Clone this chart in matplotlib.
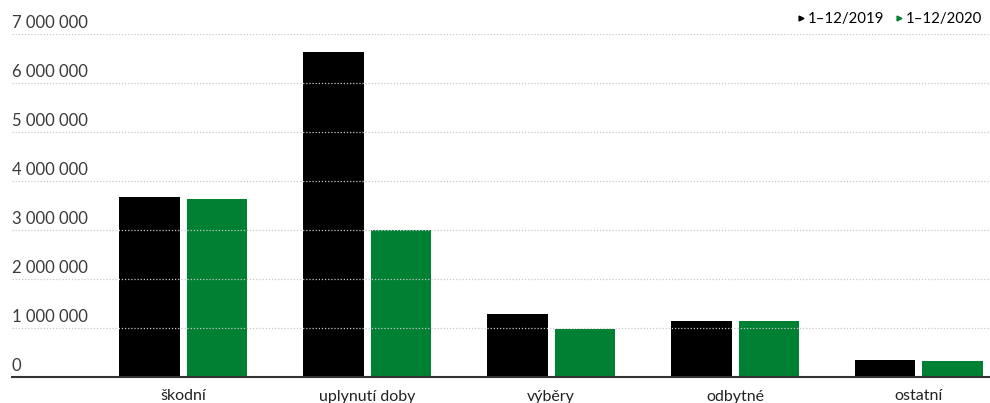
import matplotlib
matplotlib.use('Agg')
import matplotlib.pyplot as plt
from matplotlib.lines import Line2D
import numpy as np

# data
kategorie = ['škodní', 'uplynutí doby', 'výběry', 'odbytné', 'ostatní']
rok_2019 = [3670000, 6630000, 1290000, 1140000, 350000]
rok_2020 = [3630000, 3000000, 980000, 1140000, 330000]
serie = ['1–12/2019', '1–12/2020']
barvy = ['#000000', '#008033']
y_ticks = [0, 1000000, 2000000, 3000000, 4000000, 5000000, 6000000, 7000000]

plt.rcParams['font.family'] = ['Lato', 'DejaVu Sans']

fig = plt.figure(figsize=(9.9, 4.03), dpi=100)
ax = fig.add_axes([12/990, 26/403, 978/990, 343/403])

x = np.arange(len(kategorie))
sirka = 0.33
ax.bar(x - 0.184, rok_2019, sirka, color=barvy[0], zorder=2)
ax.bar(x + 0.184, rok_2020, sirka, color=barvy[1], zorder=2)

ax.set_xlim(-0.93, 4.386)
ax.set_ylim(0, 7000000)

# mrizka teckovane + popisky nad carou
for v in y_ticks:
    if v > 0:
        ax.axhline(v, color='#c8c8c8', linestyle=(0, (1, 1.5)), linewidth=0.9, zorder=3)
    ax.annotate(f'{v:,}'.replace(',', ' '), xy=(0, v), xycoords=('axes fraction', 'data'),
                xytext=(0, 2.5), textcoords='offset points', ha='left', va='bottom',
                fontsize=12, color='#3a3a3a')

ax.set_yticks([])
ax.set_xticks(x)
ax.set_xticklabels(kategorie, fontsize=11.5, color='#222222')
ax.tick_params(axis='x', length=0, pad=9)

for s in ['top', 'right', 'left']:
    ax.spines[s].set_visible(False)
ax.spines['bottom'].set_color('#333333')
ax.spines['bottom'].set_linewidth(1.5)
ax.spines['bottom'].set_zorder(4)

handles = [Line2D([], [], marker='>', color=c, linestyle='none', markersize=3.5) for c in barvy]
ax.legend(handles, serie, loc='lower right', bbox_to_anchor=(1.0, 1.0), ncol=2, frameon=False,
          fontsize=10.8, handletextpad=0.15, columnspacing=0.7, handlelength=0.6,
          borderaxespad=0.3, borderpad=0.2)

fig.savefig('out.png', dpi=100)
